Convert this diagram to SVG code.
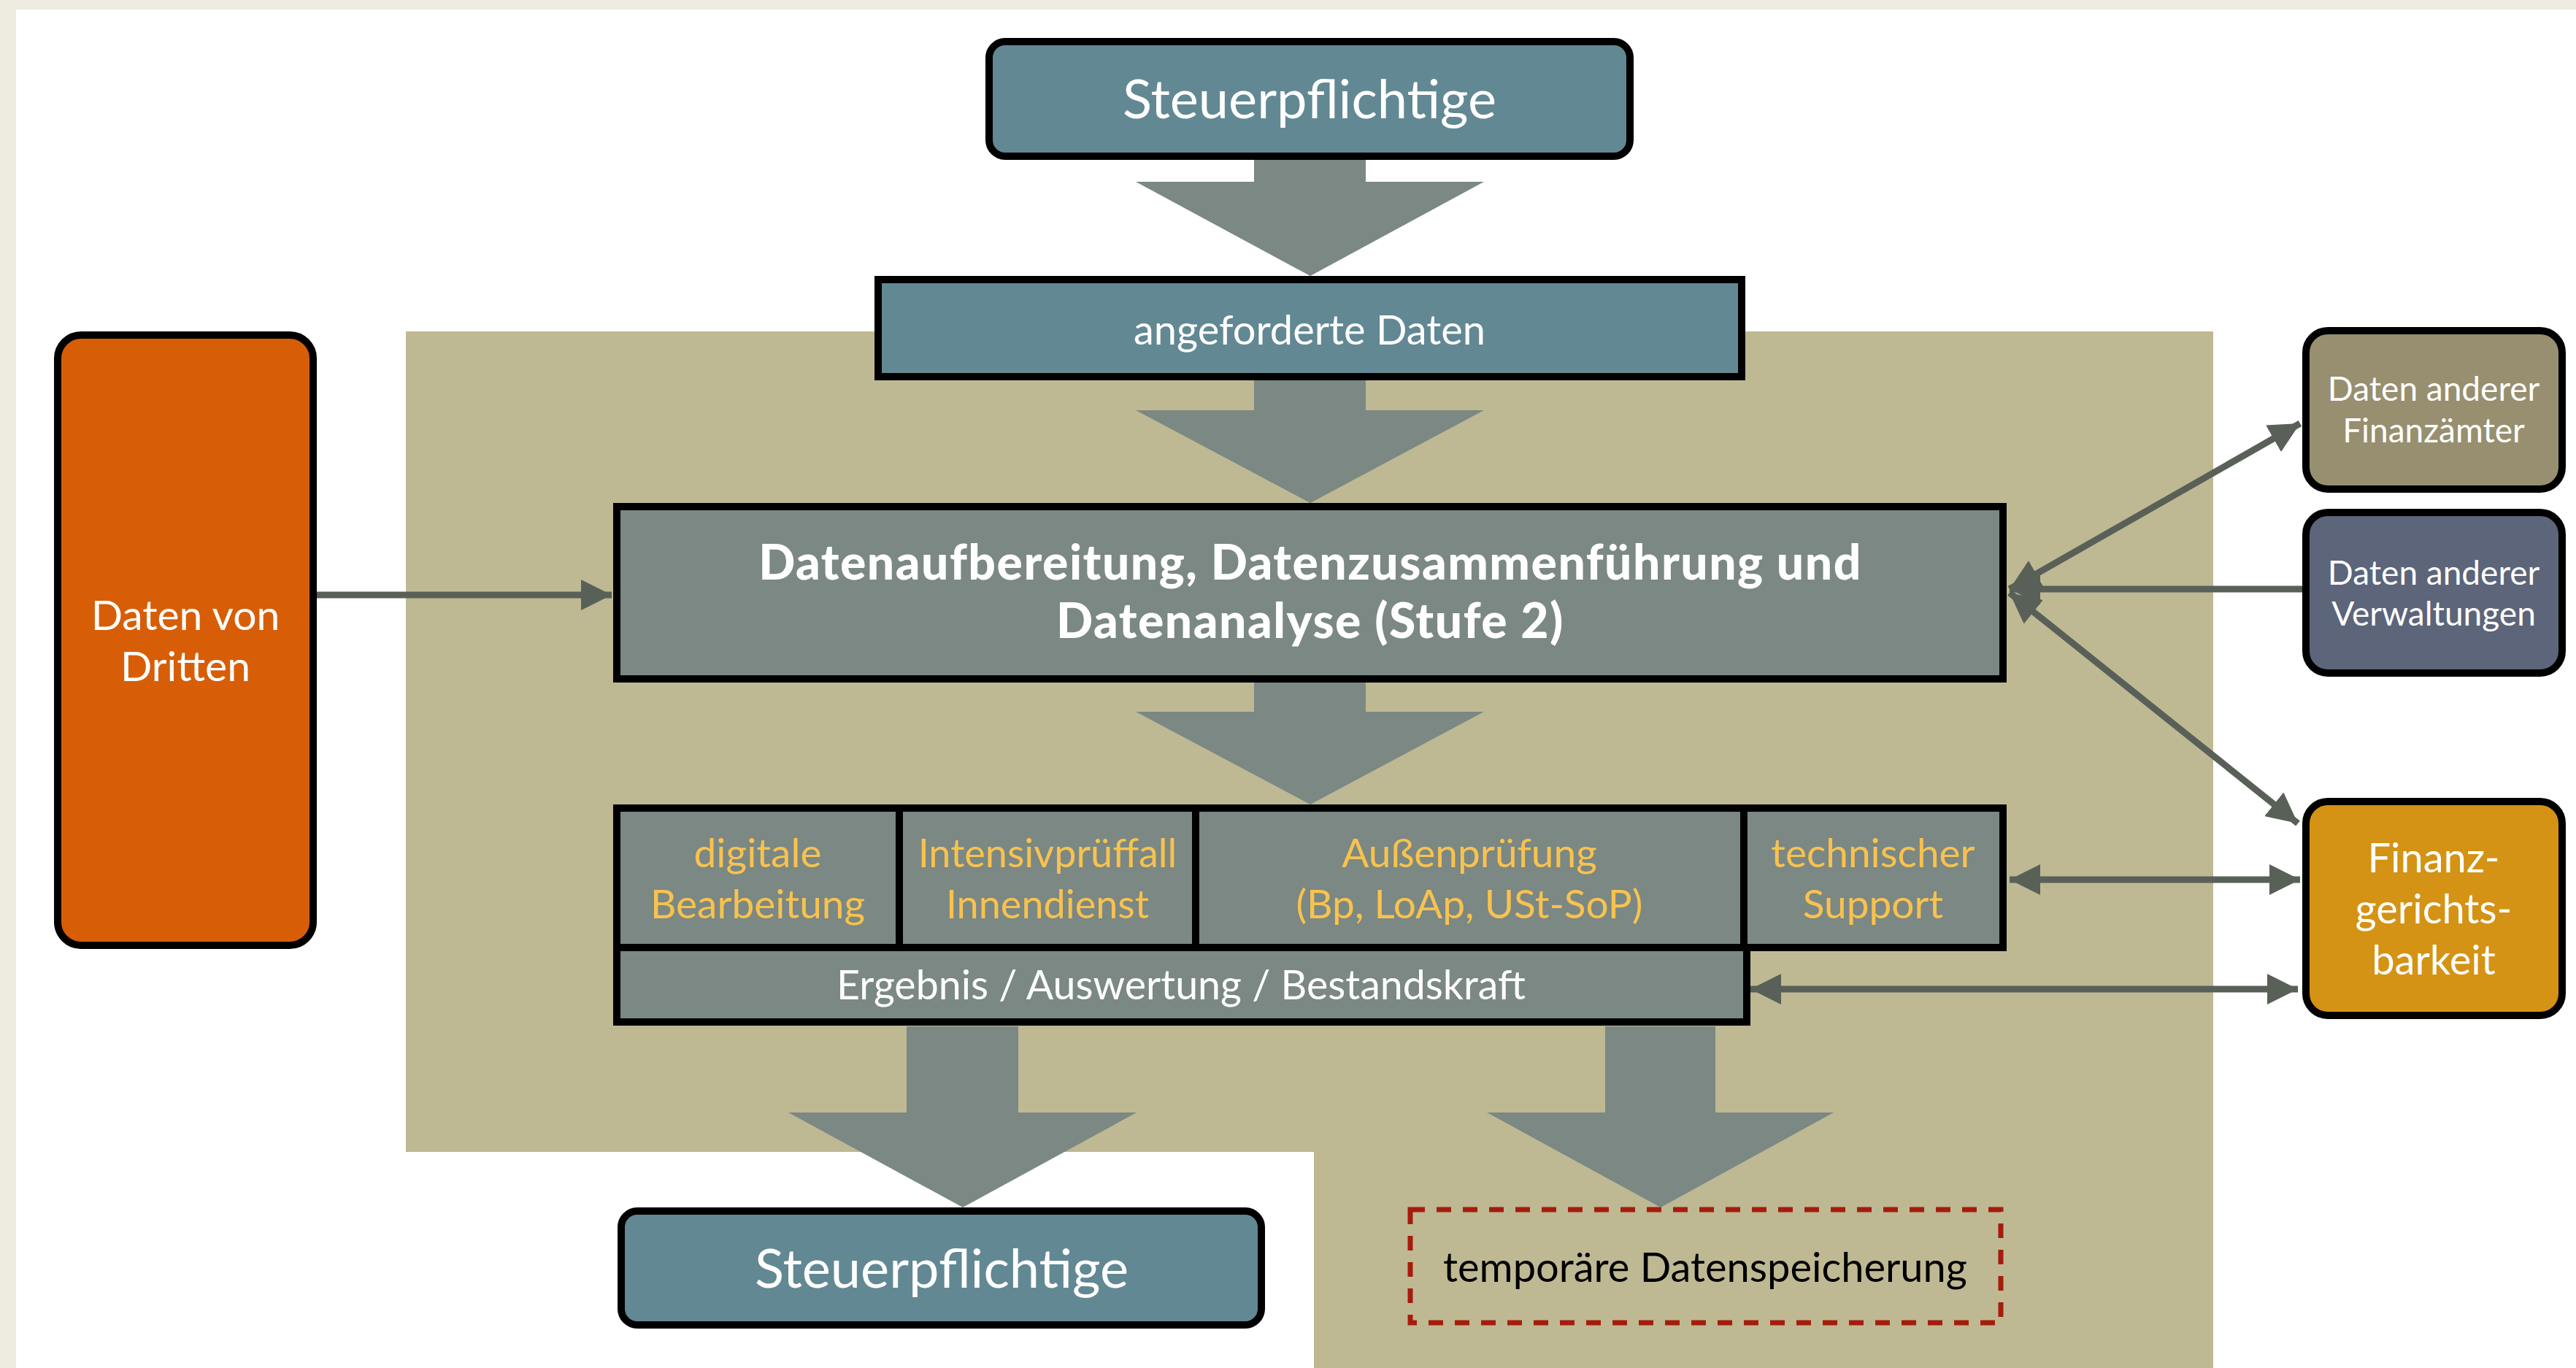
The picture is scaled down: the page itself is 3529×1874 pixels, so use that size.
<svg xmlns="http://www.w3.org/2000/svg" width="3529" height="1874" viewBox="0 0 3529 1874">
<style>
.t{font-family:Lato,"Open Sans","Liberation Sans",sans-serif;text-anchor:middle}
.w{fill:#fff}
.y{fill:#F8C24F}
.blk{fill:#7B8883}
.conn{stroke:#586058;stroke-width:9;fill:none}
.box{stroke:#000;stroke-width:10}
</style>
<defs>
<marker id="ah" markerUnits="userSpaceOnUse" markerWidth="42" markerHeight="42" viewBox="0 0 42 42" refX="42" refY="21" orient="auto-start-reverse">
<path d="M0,0 L42,21 L0,42 z" fill="#586058"/>
</marker>
</defs>
<rect x="0" y="0" width="3529" height="1874" fill="#EEEBE1"/>
<rect x="22" y="13" width="3507" height="1861" fill="#fff"/>
<path d="M556,454 H3032 V1874 H1800 V1578 H556 Z" fill="#BEB993"/>

<g id="block-arrows">
<polygon class="blk" points="1718,214 1871,214 1871,249 2033,249 1795,378 1556,249 1718,249"/>
<polygon class="blk" points="1718,518 1871,518 1871,562 2033,562 1795,689 1556,562 1718,562"/>
<polygon class="blk" points="1718,932 1871,932 1871,975 2033,975 1795,1102 1556,975 1718,975"/>
<polygon class="blk" points="1242,1406 1395,1406 1395,1524 1557,1524 1319,1654 1080,1524 1242,1524"/>
<polygon class="blk" points="2199,1406 2350,1406 2350,1524 2512,1524 2275,1654 2037,1524 2199,1524"/>
</g>

<g id="connectors">
<line class="conn" x1="434" y1="815" x2="838" y2="815" marker-end="url(#ah)"/>
<line class="conn" x1="2753" y1="807" x2="3151" y2="580" marker-start="url(#ah)" marker-end="url(#ah)"/>
<line class="conn" x1="3155" y1="807" x2="2753" y2="807" marker-end="url(#ah)"/>
<line class="conn" x1="2753" y1="812" x2="3148" y2="1128" marker-start="url(#ah)" marker-end="url(#ah)"/>
<line class="conn" x1="2753" y1="1205" x2="3151" y2="1205" marker-start="url(#ah)" marker-end="url(#ah)"/>
<line class="conn" x1="2398" y1="1355" x2="3148" y2="1355" marker-start="url(#ah)" marker-end="url(#ah)"/>
</g>

<g id="steuerpflichtige-top">
<rect class="box" x="1355" y="57" width="878" height="157" rx="22" fill="#628893"/>
<text class="t w" x="1794" y="162" font-size="74">Steuerpflichtige</text>
</g>

<g id="angeforderte-daten">
<rect class="box" x="1203" y="383" width="1183" height="133" fill="#628893"/>
<text class="t w" x="1794" y="472" font-size="56">angeforderte Daten</text>
</g>

<g id="daten-von-dritten">
<rect class="box" x="79" y="459" width="350" height="836" rx="32" fill="#D75E07"/>
<text class="t w" x="254" y="863" font-size="57">Daten von</text>
<text class="t w" x="254" y="933" font-size="57">Dritten</text>
</g>

<g id="datenaufbereitung">
<rect class="box" x="845" y="694" width="1899" height="236" fill="#7B8883"/>
<text class="t w" x="1795" y="794" font-size="66" font-weight="900" letter-spacing="1.5">Datenaufbereitung, Datenzusammenführung und</text>
<text class="t w" x="1795" y="874" font-size="66" font-weight="900" letter-spacing="1.5">Datenanalyse (Stufe 2)</text>
</g>

<g id="digitale-bearbeitung">
<rect class="box" x="845" y="1107" width="387" height="191" fill="#7B8883"/>
<text class="t y" x="1038" y="1188" font-size="55">digitale</text>
<text class="t y" x="1038" y="1258" font-size="55">Bearbeitung</text>
</g>

<g id="intensivpruefall">
<rect class="box" x="1232" y="1107" width="406" height="191" fill="#7B8883"/>
<text class="t y" x="1435" y="1188" font-size="54">Intensivprüffall</text>
<text class="t y" x="1435" y="1258" font-size="54">Innendienst</text>
</g>

<g id="aussenpruefung">
<rect class="box" x="1638" y="1107" width="751" height="191" fill="#7B8883"/>
<text class="t y" x="2013" y="1188" font-size="55">Außenprüfung</text>
<text class="t y" x="2013" y="1258" font-size="55">(Bp, LoAp, USt-SoP)</text>
</g>

<g id="technischer-support">
<rect class="box" x="2389" y="1107" width="355" height="191" fill="#7B8883"/>
<text class="t y" x="2566" y="1188" font-size="55">technischer</text>
<text class="t y" x="2566" y="1258" font-size="55">Support</text>
</g>

<g id="ergebnis">
<rect class="box" x="845" y="1298" width="1548" height="102" fill="#7B8883"/>
<text class="t w" x="1618" y="1369" font-size="55.5">Ergebnis / Auswertung / Bestandskraft</text>
</g>

<g id="finanzaemter">
<rect class="box" x="3159" y="453" width="351" height="217" rx="30" fill="#978F6F"/>
<text class="t w" x="3334" y="549" font-size="46">Daten anderer</text>
<text class="t w" x="3334" y="606" font-size="46">Finanzämter</text>
</g>

<g id="verwaltungen">
<rect class="box" x="3159" y="702" width="351" height="220" rx="30" fill="#5C6579"/>
<text class="t w" x="3334" y="801" font-size="46">Daten anderer</text>
<text class="t w" x="3334" y="857" font-size="46">Verwaltungen</text>
</g>

<g id="finanzgerichtsbarkeit">
<rect class="box" x="3159" y="1098" width="351" height="293" rx="30" fill="#D49314"/>
<text class="t w" x="3334" y="1195" font-size="56">Finanz-</text>
<text class="t w" x="3334" y="1265" font-size="56">gerichts-</text>
<text class="t w" x="3334" y="1335" font-size="56">barkeit</text>
</g>

<g id="steuerpflichtige-bottom">
<rect class="box" x="851" y="1659" width="877" height="156" rx="22" fill="#628893"/>
<text class="t w" x="1290" y="1764" font-size="74">Steuerpflichtige</text>
</g>

<g id="temporaere-datenspeicherung">
<rect x="1932" y="1657" width="809" height="155" fill="none" stroke="#A51C0C" stroke-width="7" stroke-dasharray="20 16"/>
<text class="t" x="2336" y="1756" font-size="56" fill="#000">temporäre Datenspeicherung</text>
</g>
</svg>
